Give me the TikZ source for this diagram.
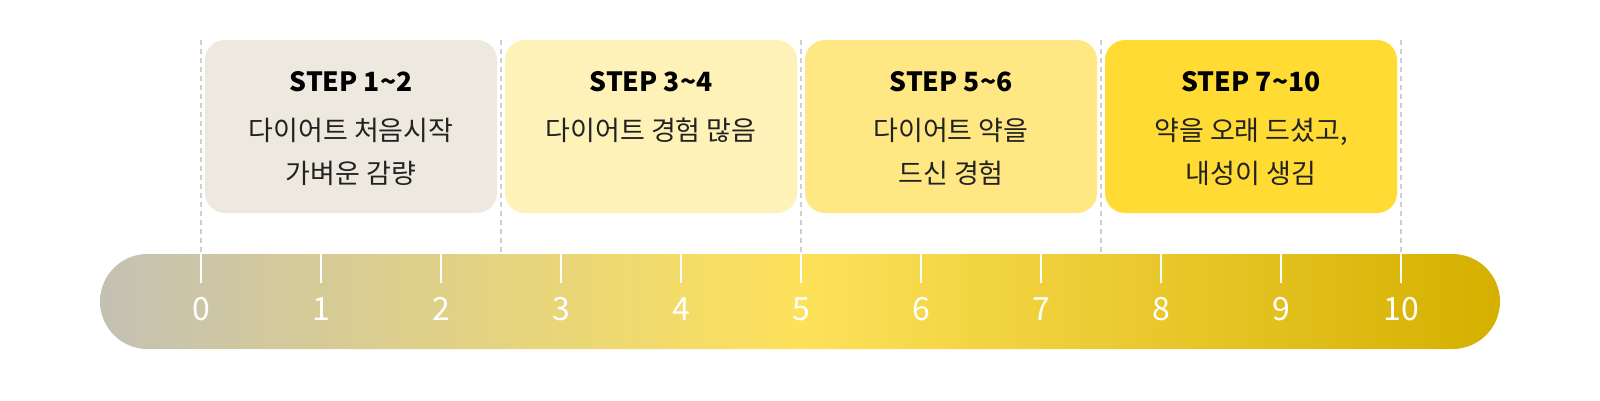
\documentclass[tikz,border=0pt]{standalone}
\usepackage{fontspec}
\setmainfont{Noto Sans CJK KR}

\definecolor{boxA}{HTML}{EDE9DF}
\definecolor{boxB}{HTML}{FFF2B9}
\definecolor{boxC}{HTML}{FFE883}
\definecolor{boxD}{HTML}{FFDB34}
\definecolor{barleft}{HTML}{C4C1B3}
\definecolor{barmid}{HTML}{FDE15A}
\definecolor{barright}{HTML}{D5B000}
\definecolor{guidegray}{HTML}{CFCFCF}
\definecolor{textgray}{HTML}{222222}

\begin{document}
\begin{tikzpicture}[x=1pt,y=-1pt,
  step box/.style={rounded corners=20pt,minimum width=292pt,minimum height=173pt,inner sep=0pt},
  step title/.style={font=\fontsize{26.5}{30}\selectfont\bfseries,text=black,inner sep=0pt},
  step text/.style={font=\fontsize{27}{43}\selectfont,align=center,text=textgray,anchor=north,inner sep=0pt},
  tick label/.style={font=\fontsize{32}{36}\selectfont,text=white,inner sep=0pt},
  guide/.style={draw=guidegray,line width=1.5pt,dash pattern=on 5pt off 4pt}]

  \useasboundingbox (0,0) rectangle (1600,400);

  % timeline bar
  \shade[left color=barleft,right color=barright,middle color=barmid,rounded corners=47.5pt]
    (100,254) rectangle (1500,349);

  % dashed guides
  \foreach \i/\x in {0/201,1/501,2/801,3/1101,4/1401} {
    \coordinate (g\i top) at (\x,40);
    \coordinate (g\i bot) at (\x,254);
    \draw[guide] (g\i top) -- (g\i bot);
  }

  % ticks and numbers
  \foreach \n in {0,...,10} {
    \coordinate (k\n) at (201+120*\n,254);
    \coordinate (k\n end) at (201+120*\n,283);
    \draw[white,line width=2pt] (k\n) -- (k\n end);
    \node[tick label] (n\n) at (201+120*\n,309) {\n};
  }

  % step boxes
  \node[step box,fill=boxA] (s1) at (351,126.5) {};
  \node[step box,fill=boxB] (s2) at (651,126.5) {};
  \node[step box,fill=boxC] (s3) at (951,126.5) {};
  \node[step box,fill=boxD] (s4) at (1251,126.5) {};

  \node[step title] (t1) at (351,82) {STEP 1\textasciitilde2};
  \node[step title] (t2) at (651,82) {STEP 3\textasciitilde4};
  \node[step title] (t3) at (951,82) {STEP 5\textasciitilde6};
  \node[step title] (t4) at (1251,82) {STEP 7\textasciitilde10};

  \node[step text] (d1) at (351,118) {다이어트 처음시작\\가벼운 감량};
  \node[step text] (d2) at (651,118) {다이어트 경험 많음};
  \node[step text] (d3) at (951,118) {다이어트 약을\\드신 경험};
  \node[step text] (d4) at (1251,118) {약을 오래 드셨고,\\내성이 생김};
\end{tikzpicture}
\end{document}
